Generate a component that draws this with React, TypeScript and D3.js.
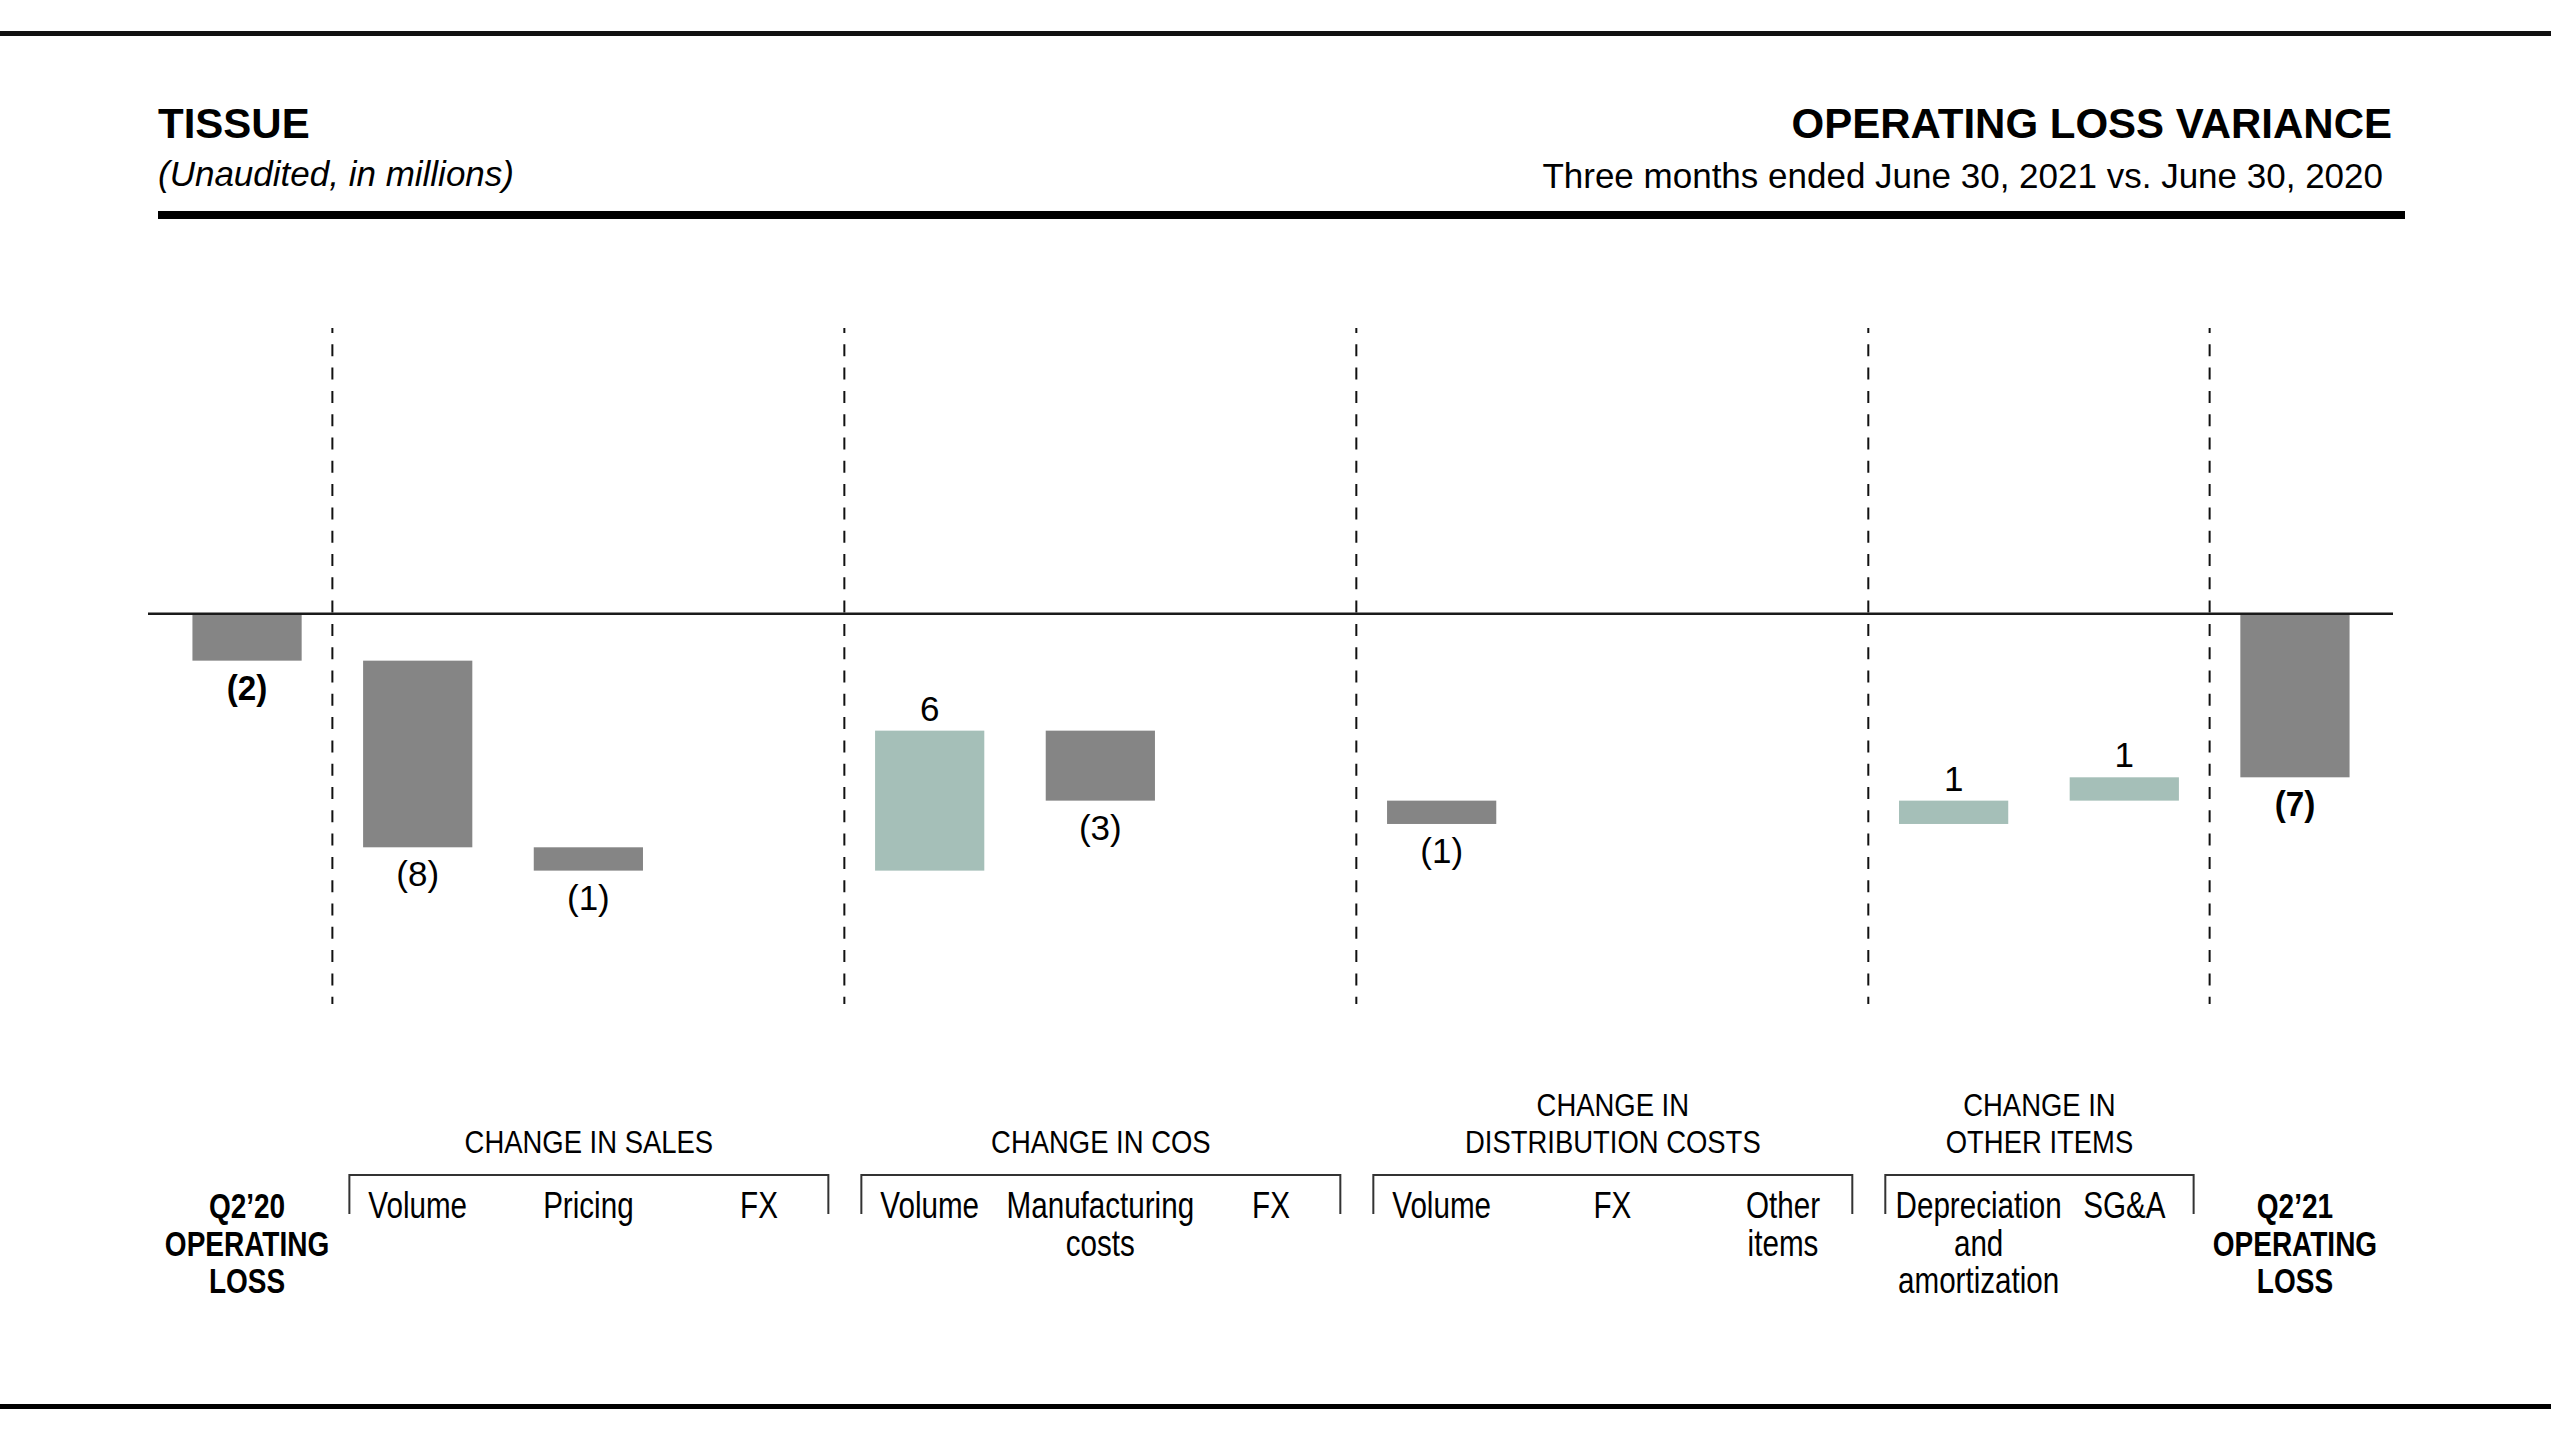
import React from "react";
import * as d3 from "d3";

const W = 2551;
const H = 1434;

// ---- data ----
const categories = [
  "Q2'20 OPERATING LOSS",
  "Sales Volume",
  "Sales Pricing",
  "Sales FX",
  "COS Volume",
  "COS Manufacturing costs",
  "COS FX",
  "Distribution Volume",
  "Distribution FX",
  "Distribution Other items",
  "Depreciation and amortization",
  "SG&A",
  "Q2'21 OPERATING LOSS",
];
const values = [-2, -8, -1, 0, 6, -3, 0, -1, 0, 0, 1, 1, -7];
const kinds = ["total", "delta", "delta", "delta", "delta", "delta", "delta", "delta", "delta", "delta", "delta", "delta", "total"];
const valueLabels = ["(2)", "(8)", "(1)", "", "6", "(3)", "", "(1)", "", "", "1", "1", "(7)"];
const axisLabels = [
  ["Q2\u201920", "OPERATING", "LOSS"],
  ["Volume"],
  ["Pricing"],
  ["FX"],
  ["Volume"],
  ["Manufacturing", "costs"],
  ["FX"],
  ["Volume"],
  ["FX"],
  ["Other", "items"],
  ["Depreciation", "and", "amortization"],
  ["SG&A"],
  ["Q2\u201921", "OPERATING", "LOSS"],
];
const groupNames = [
  ["CHANGE IN SALES"],
  ["CHANGE IN COS"],
  ["CHANGE IN", "DISTRIBUTION COSTS"],
  ["CHANGE IN", "OTHER ITEMS"],
];
const groupStart = [1, 4, 7, 10];
const groupEnd = [3, 6, 9, 11];

const titleLeft = "TISSUE";
const subtitleLeft = "(Unaudited, in millions)";
const titleRight = "OPERATING LOSS VARIANCE";
const subtitleRight = "Three months ended June 30, 2021 vs. June 30, 2020";

const GREY = "#858585";
const TEAL = "#a5bfb8";
const FONT = "'Liberation Sans', Arial, sans-serif";

type TProps = {
  x: number;
  y: number;
  size: number;
  weight?: number | string;
  anchor?: "start" | "middle" | "end";
  sx?: number;
  italic?: boolean;
  children: React.ReactNode;
};

function T({ x, y, size, weight = 400, anchor = "middle", sx = 1, italic = false, children }: TProps) {
  return (
    <text
      transform={`translate(${x},${y}) scale(${sx},1)`}
      textAnchor={anchor}
      fontSize={size}
      fontWeight={weight}
      fontStyle={italic ? "italic" : "normal"}
      fontFamily={FONT}
      fill="#000"
    >
      {children}
    </text>
  );
}

export default function App() {
  const idx = categories.map((_, i) => i);
  const x = d3
    .scaleBand<number>()
    .domain(idx)
    .range([131, 2411])
    .paddingInner(0.36)
    .paddingOuter(0.36);
  const bw = x.bandwidth();
  const step = x.step();
  const cx = (i: number) => (x(i) as number) + bw / 2;

  const y = d3.scaleLinear().domain([0, -12]).range([614, 614 + 12 * 23.33]);

  // waterfall
  let cum = 0;
  const bars = values.map((v, i) => {
    let y0: number, y1: number;
    if (kinds[i] === "total") {
      y0 = 0;
      y1 = v;
      cum = v;
    } else {
      y0 = cum;
      y1 = cum + v;
      cum = y1;
    }
    const top = Math.min(y(y0), y(y1));
    const bottom = Math.max(y(y0), y(y1));
    return { i, v, top, bottom, kind: kinds[i] };
  });

  // separators: after first total, after each group end
  const sepAfter = [groupStart[0] - 1, ...groupEnd];
  const sepX = sepAfter.map((i) => cx(i) + step / 2);

  const labelNudge: Record<number, number> = { 10: 25 };

  return (
    <svg
      width={W}
      height={H}
      style={{ position: "absolute", left: 0, top: 0, background: "#fff" }}
    >
      <rect x={0} y={0} width={W} height={H} fill="#fff" />
      {/* rules */}
      <rect x={0} y={31} width={W} height={5} fill="#111" />
      <rect x={158} y={211} width={2247} height={8} fill="#000" />
      <rect x={0} y={1404} width={W} height={5} fill="#000" />

      {/* titles */}
      <T x={158} y={138} size={42} weight={700} anchor="start">{titleLeft}</T>
      <T x={158} y={186} size={35} italic anchor="start">{subtitleLeft}</T>
      <T x={2392} y={138} size={42} weight={700} anchor="end">{titleRight}</T>
      <T x={2383} y={188} size={35} anchor="end">{subtitleRight}</T>

      {/* dashed separators */}
      {sepX.map((sx, k) => (
        <line
          key={"sep" + k}
          x1={sx}
          x2={sx}
          y1={328}
          y2={1004}
          stroke="#111"
          strokeWidth={2}
          strokeDasharray="12 11.3"
          strokeDashoffset={7}
        />
      ))}

      {/* bars */}
      {bars.map((b) =>
        b.v === 0 ? null : (
          <rect
            key={"bar" + b.i}
            x={x(b.i)}
            y={b.top}
            width={bw}
            height={b.bottom - b.top}
            fill={b.kind === "delta" && b.v > 0 ? TEAL : GREY}
          />
        )
      )}

      {/* zero line */}
      <line x1={148} x2={2393} y1={y(0) - 0.3} y2={y(0) - 0.3} stroke="#1a1a1a" strokeWidth={2.6} />

      {/* value labels */}
      {bars.map((b) => {
        if (!valueLabels[b.i]) return null;
        const isTotal = b.kind === "total";
        const yy = b.v > 0 && !isTotal ? b.top - 10 : b.bottom + 39;
        return (
          <T key={"vl" + b.i} x={cx(b.i)} y={yy} size={35} weight={isTotal ? 700 : 400} sx={isTotal ? 0.95 : 1}>
            {valueLabels[b.i]}
          </T>
        );
      })}

      {/* brackets and group names */}
      {groupStart.map((gs, g) => {
        const left = cx(gs) - step / 2 + 17;
        const right = cx(groupEnd[g]) + step / 2 - 16;
        const mid = (left + right) / 2;
        const lines = groupNames[g];
        return (
          <g key={"grp" + g}>
            <path
              d={`M${left},1214 V1175 H${right} V1214`}
              fill="none"
              stroke="#333"
              strokeWidth={2}
            />
            {lines.map((ln, k) => (
              <T key={k} x={mid} y={1153 - (lines.length - 1 - k) * 37} size={30.5} sx={0.9}>
                {ln}
              </T>
            ))}
          </g>
        );
      })}

      {/* category labels */}
      {axisLabels.map((lines, i) => {
        const isTotal = kinds[i] === "total";
        const xx = cx(i) + (labelNudge[i] || 0);
        return (
          <g key={"al" + i}>
            {lines.map((ln, k) => (
              <T
                key={k}
                x={xx}
                y={1218 + k * 37.5}
                size={isTotal ? 35 : 37}
                weight={isTotal ? 700 : 400}
                sx={0.8}
              >
                {ln}
              </T>
            ))}
          </g>
        );
      })}
    </svg>
  );
}
